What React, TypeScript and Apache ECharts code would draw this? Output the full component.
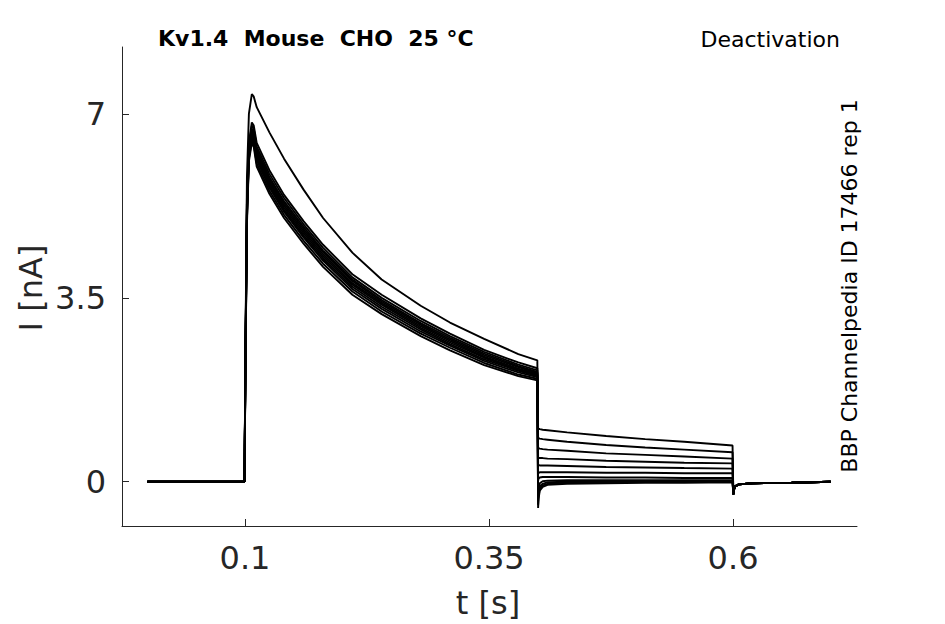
import React, { useEffect, useRef } from "react";
import * as echarts from "echarts";

// Shared sample times (s)
const pulseTimes = [0, 0.05, 0.0995, 0.1005, 0.102, 0.104, 0.107, 0.109, 0.112, 0.125, 0.14, 0.16, 0.18, 0.21, 0.24, 0.28, 0.31, 0.345, 0.38, 0.3995];
const tailTimes = [0.4003, 0.4008, 0.402, 0.405, 0.41, 0.43, 0.47, 0.51, 0.55, 0.5995];
const postTimes = [0.6003, 0.6008, 0.602, 0.606, 0.62, 0.66, 0.7];

// Current during the test pulse (nA), one array per sweep
const pulse1 = [0, 0, 0, 2.6, 5.8, 7.0, 7.38, 7.33, 7.13, 6.65, 6.15, 5.56, 5.02, 4.36, 3.85, 3.35, 3.03, 2.72, 2.43, 2.31];
const pulse2 = [0, 0, 0, 2.5, 5.4, 6.45, 6.84, 6.78, 6.45, 5.93, 5.46, 4.96, 4.51, 3.95, 3.56, 3.11, 2.82, 2.51, 2.27, 2.16];
const pulse3 = [0, 0, 0, 2.5, 5.3, 6.4, 6.78, 6.72, 6.38, 5.86, 5.4, 4.9, 4.45, 3.89, 3.5, 3.06, 2.77, 2.47, 2.23, 2.12];
const pulse4 = [0, 0, 0, 2.4, 5.3, 6.35, 6.72, 6.66, 6.32, 5.8, 5.34, 4.85, 4.4, 3.85, 3.46, 3.02, 2.74, 2.44, 2.2, 2.09];
const pulse5 = [0, 0, 0, 2.4, 5.2, 6.3, 6.68, 6.62, 6.28, 5.76, 5.3, 4.81, 4.37, 3.82, 3.43, 2.99, 2.71, 2.41, 2.18, 2.07];
const pulse6 = [0, 0, 0, 2.4, 5.2, 6.3, 6.65, 6.58, 6.24, 5.72, 5.26, 4.77, 4.33, 3.78, 3.4, 2.96, 2.68, 2.38, 2.15, 2.05];
const pulse7 = [0, 0, 0, 2.3, 5.1, 6.25, 6.62, 6.55, 6.2, 5.68, 5.22, 4.73, 4.29, 3.75, 3.37, 2.93, 2.65, 2.36, 2.13, 2.03];
const pulse8 = [0, 0, 0, 2.3, 5.1, 6.2, 6.58, 6.51, 6.16, 5.64, 5.18, 4.69, 4.25, 3.71, 3.33, 2.9, 2.62, 2.33, 2.11, 2.01];
const pulse9 = [0, 0, 0, 2.3, 5.0, 6.2, 6.55, 6.47, 6.12, 5.6, 5.14, 4.65, 4.21, 3.67, 3.29, 2.86, 2.59, 2.3, 2.08, 1.99];
const pulse10 = [0, 0, 0, 2.2, 5.0, 6.15, 6.5, 6.42, 6.06, 5.54, 5.08, 4.59, 4.15, 3.62, 3.24, 2.82, 2.55, 2.26, 2.04, 1.96];
const pulse11 = [0, 0, 0, 2.2, 4.9, 6.1, 6.45, 6.37, 6.0, 5.48, 5.02, 4.53, 4.09, 3.56, 3.19, 2.77, 2.5, 2.22, 2.01, 1.93];

// Current during the deactivation (tail) step (nA)
const tail1 = [1.02, 1.01, 1.0, 0.99, 0.98, 0.94, 0.87, 0.81, 0.76, 0.69];
const tail2 = [0.84, 0.83, 0.82, 0.81, 0.8, 0.76, 0.7, 0.65, 0.61, 0.56];
const tail3 = [0.65, 0.64, 0.63, 0.62, 0.61, 0.59, 0.54, 0.51, 0.48, 0.44];
const tail4 = [0.47, 0.46, 0.45, 0.45, 0.44, 0.43, 0.4, 0.38, 0.36, 0.35];
const tail5 = [0.32, 0.32, 0.31, 0.31, 0.31, 0.3, 0.28, 0.27, 0.26, 0.25];
const tail6 = [0.15, 0.17, 0.18, 0.18, 0.18, 0.18, 0.17, 0.17, 0.16, 0.16];
const tail7 = [0.02, 0.06, 0.08, 0.09, 0.09, 0.09, 0.08, 0.08, 0.07, 0.07];
const tail8 = [-0.28, -0.12, -0.03, 0.01, 0.02, 0.03, 0.03, 0.03, 0.03, 0.03];
const tail9 = [-0.36, -0.2, -0.09, -0.04, -0.01, 0.0, 0.01, 0.01, 0.01, 0.01];
const tail10 = [-0.44, -0.27, -0.13, -0.07, -0.04, -0.02, -0.01, 0.0, 0.0, 0.0];
const tail11 = [-0.5, -0.32, -0.17, -0.1, -0.06, -0.04, -0.03, -0.02, -0.02, -0.01];

// Current after returning to holding potential (nA)
const postValues = [-0.24, -0.16, -0.09, -0.05, -0.03, -0.02, 0.0];

const pulses = [pulse1, pulse2, pulse3, pulse4, pulse5, pulse6, pulse7, pulse8, pulse9, pulse10, pulse11];
const tails = [tail1, tail2, tail3, tail4, tail5, tail6, tail7, tail8, tail9, tail10, tail11];

const xTicks = [0.1, 0.35, 0.6];
const yTicks = [0, 3.5, 7];

const titleText = "Kv1.4  Mouse  CHO  25 °C";
const protocolText = "Deactivation";
const sourceText = "BBP Channelpedia ID 17466 rep 1";

const FONT = "DejaVu Sans";
const TXT = "#262626";

export default function App() {
  const ref = useRef<HTMLDivElement>(null);

  useEffect(() => {
    document.body.style.margin = "0";
    if (!ref.current) return;
    const chart = echarts.init(ref.current, undefined, { renderer: "svg" });

    const series = pulses.map((p, i) => {
      const data: number[][] = [];
      pulseTimes.forEach((t, k) => data.push([t, p[k]]));
      tailTimes.forEach((t, k) => data.push([t, tails[i][k]]));
      postTimes.forEach((t, k) => data.push([t, postValues[k]]));
      return {
        type: "line",
        data,
        showSymbol: false,
        silent: true,
        lineStyle: { color: "#000", width: 1.9 },
      };
    });

    chart.setOption({
      animation: false,
      backgroundColor: "#fff",
      grid: { left: 122, right: 88, top: 47, bottom: 98, containLabel: false },
      xAxis: {
        type: "value",
        min: -0.026,
        max: 0.727,
        splitLine: { show: false },
        axisLine: { show: true, onZero: false, lineStyle: { color: TXT, width: 1 } },
        axisTick: { show: true, inside: true, length: 7, customValues: xTicks, lineStyle: { color: TXT } },
        axisLabel: { customValues: xTicks, margin: 16, fontSize: 32, color: TXT, fontFamily: FONT },
      },
      yAxis: {
        type: "value",
        min: -0.843,
        max: 8.275,
        splitLine: { show: false },
        axisLine: { show: true, onZero: false, lineStyle: { color: TXT, width: 1 } },
        axisTick: { show: true, inside: true, length: 7, customValues: yTicks, lineStyle: { color: TXT } },
        axisLabel: { customValues: yTicks, margin: 16, fontSize: 32, color: TXT, fontFamily: FONT },
      },
      graphic: [
        {
          type: "text",
          left: 158,
          top: 27,
          style: { text: titleText, fontFamily: FONT, fontWeight: "bold", fontSize: 22, fill: "#000" },
        },
        {
          type: "text",
          x: 840,
          y: 39,
          style: { text: protocolText, fontFamily: FONT, fontSize: 22, fill: "#000", align: "right", verticalAlign: "middle" },
        },
        {
          type: "text",
          x: 849,
          y: 286,
          rotation: Math.PI / 2,
          style: { text: sourceText, fontFamily: FONT, fontSize: 22, fill: "#000", align: "center", verticalAlign: "middle" },
        },
        {
          type: "text",
          x: 31,
          y: 288,
          rotation: Math.PI / 2,
          style: { text: "I [nA]", fontFamily: FONT, fontSize: 32, fill: TXT, align: "center", verticalAlign: "middle" },
        },
        {
          type: "text",
          x: 488,
          y: 603,
          style: { text: "t [s]", fontFamily: FONT, fontSize: 32, fill: TXT, align: "center", verticalAlign: "middle" },
        },
      ],
      series,
    });

    return () => chart.dispose();
  }, []);

  return <div ref={ref} style={{ width: 945, height: 624 }} />;
}
